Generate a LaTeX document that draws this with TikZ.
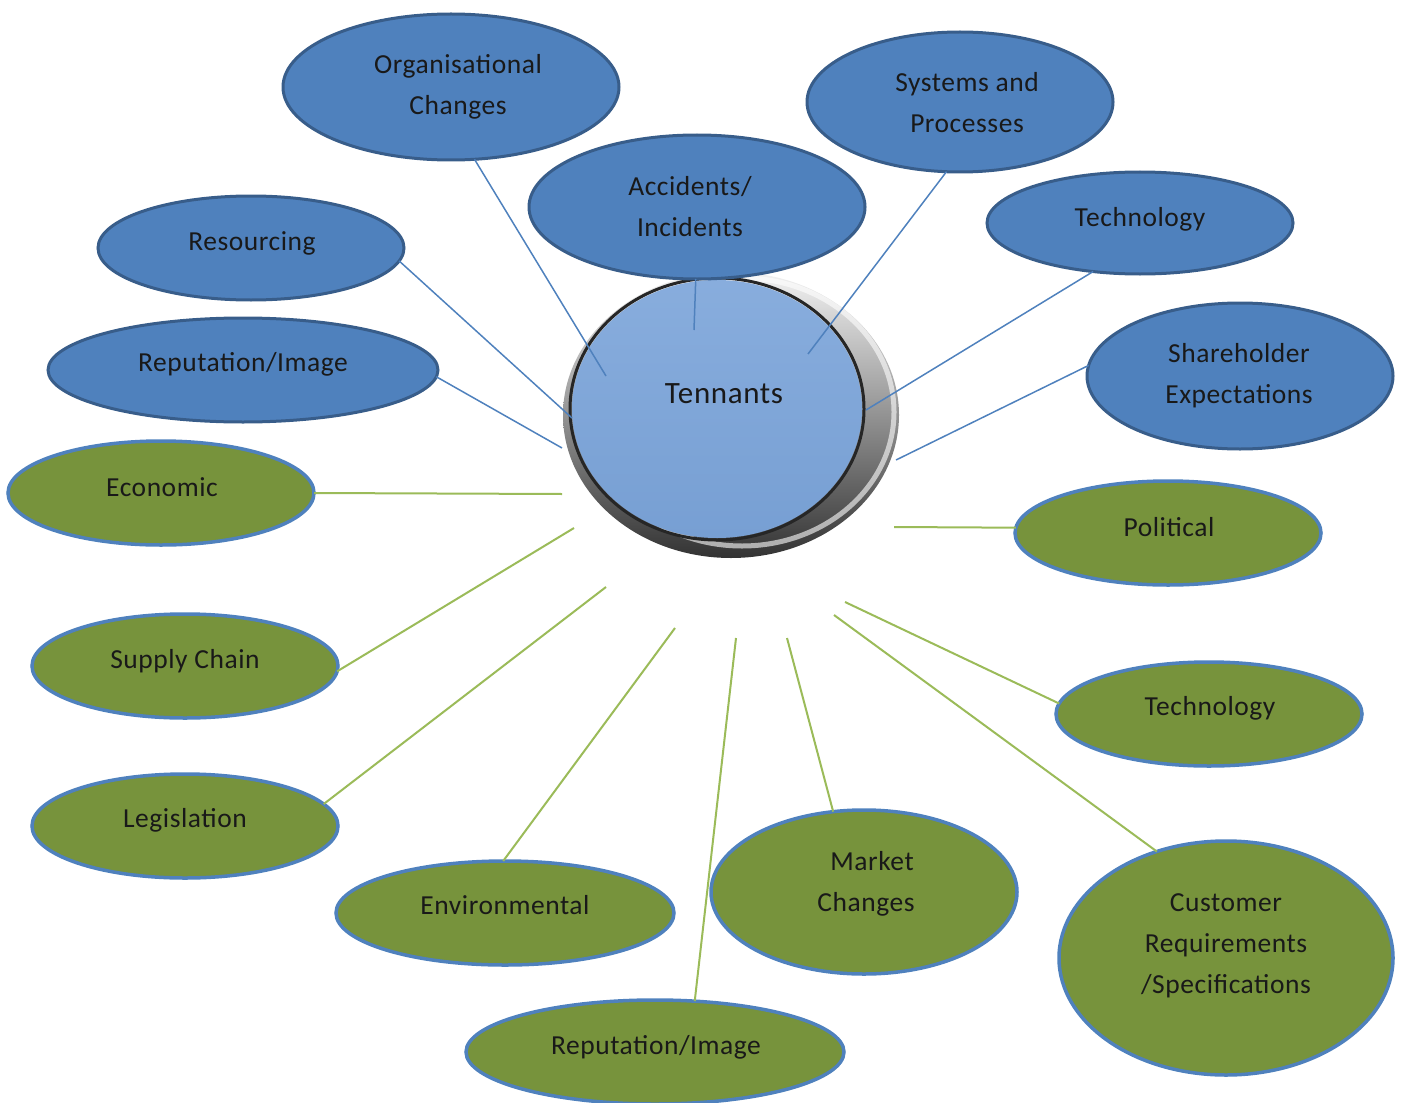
\documentclass[tikz,border=0pt]{standalone}
\usepackage{fontspec}
\setmainfont{Carlito}[LetterSpace=2]
\usetikzlibrary{shapes.geometric}
\definecolor{bfill}{HTML}{4F81BD}
\definecolor{bedge}{HTML}{385D8A}
\definecolor{gfill}{HTML}{77933C}
\definecolor{gedge}{HTML}{4F81BD}
\definecolor{bline}{HTML}{4F81BD}
\definecolor{gline}{HTML}{9BBB59}
\definecolor{diskA}{HTML}{88ADDD}
\definecolor{diskB}{HTML}{779FD3}
\tikzset{
  ell/.style={ellipse, inner sep=0pt, outer sep=0pt},
  bell/.style={ell, fill=bfill, draw=bedge, line width=3pt},
  gell/.style={ell, fill=gfill, draw=gedge, line width=3.5pt},
  txt/.style={inner sep=0pt, align=center, font=\fontsize{27.5}{41}\selectfont, text=black!90},
  bcon/.style={draw=bline, line width=1.5pt},
  gcon/.style={draw=gline, line width=2pt},
}
\newcommand{\ellnode}[6]{% style, name, cx, cy, rx, ry
  \node[#1, minimum width=#5*2pt, minimum height=#6*2pt] (#2) at (#3,#4) {};}
\begin{document}
\begin{tikzpicture}[x=1pt,y=-1pt]
\useasboundingbox (0,0) rectangle (1404,1102);
% central ring
\shade[left color=gray!10, right color=black!80, shading angle=0] (731,415) ellipse [x radius=168pt, y radius=143pt];
\draw[white, opacity=0.6, line width=5pt] (742,412) ellipse [x radius=152pt, y radius=134pt];
\draw[black!85, line width=3pt] (717,409) ellipse [x radius=147pt, y radius=131pt];
\shade[top color=diskA, bottom color=diskB] (717,409) ellipse [x radius=145pt, y radius=129pt];
\node[txt, font=\fontsize{31}{36}\selectfont] (ten) at (724,394) {Tennants};
% ellipses
\ellnode{bell}{org}{451}{87}{168}{73}
\ellnode{bell}{sys}{960}{102}{153}{70}
\ellnode{bell}{acc}{697}{207}{168}{72}
\ellnode{bell}{tecb}{1140}{223}{153}{51}
\ellnode{bell}{res}{251}{248}{153}{52}
\ellnode{bell}{repb}{243}{370}{195}{52}
\ellnode{bell}{sha}{1240}{376}{153}{73}
\ellnode{gell}{eco}{161}{493}{153}{52}
\ellnode{gell}{pol}{1168}{533}{153}{52}
\ellnode{gell}{sup}{185}{666}{153}{52}
\ellnode{gell}{tecg}{1209}{714}{153}{52}
\ellnode{gell}{leg}{185}{826}{153}{52}
\ellnode{gell}{env}{505}{913}{169}{52}
\ellnode{gell}{mar}{864}{892}{153}{82}
\ellnode{gell}{cus}{1226}{958}{167}{117}
\ellnode{gell}{repg}{655}{1052}{189}{52}
% texts
\node[txt] (org-t) at (458,87) {Organisational\\Changes};
\node[txt] (sys-t) at (967,103) {Systems and\\Processes};
\node[txt] (acc-t) at (690,207) {Accidents/\\Incidents};
\node[txt] (tecb-t) at (1140,219) {Technology};
\node[txt] (res-t) at (252,243) {Resourcing};
\node[txt] (repb-t) at (243,364) {Reputation/Image};
\node[txt] (sha-t) at (1239,376) {Shareholder\\Expectations};
\node[txt] (eco-t) at (162,487) {Economic};
\node[txt] (pol-t) at (1169,527) {Political};
\node[txt] (sup-t) at (185,661) {Supply Chain};
\node[txt] (tecg-t) at (1210,708) {Technology};
\node[txt] (leg-t) at (185,820) {Legislation};
\node[txt] (env-t) at (505,905) {Environmental};
\node[txt] (mar-t) at (866,884) {\hspace*{12pt}Market\\Changes};
\node[txt] (cus-t) at (1226,946) {Customer\\Requirements\\/Specifications};
\node[txt] (repg-t) at (656,1047) {Reputation/Image};
% inner ends
\coordinate (c1) at (606,376);
\coordinate (c2) at (694,330);
\coordinate (c3) at (808,354);
\coordinate (c4) at (866,410);
\coordinate (c5) at (896,460);
\coordinate (c6) at (572,418);
\coordinate (c7) at (562,448);
\coordinate (c8) at (562,494);
\coordinate (c9) at (894,527);
\coordinate (c10) at (574,528);
\coordinate (c11) at (606,587);
\coordinate (c12) at (675,628);
\coordinate (c13) at (736,638);
\coordinate (c14) at (787,638);
\coordinate (c15) at (845,602);
\coordinate (c16) at (834,615);
% connectors
\draw[bcon] (org.-72) -- (c1);
\draw[bcon] (acc.-91) -- (c2);
\draw[bcon] (sys.-101) -- (c3);
\draw[bcon] (tecb.-134) -- (c4);
\draw[bcon] (sha.176) -- (c5);
\draw[bcon] (res.-5) -- (c6);
\draw[bcon] (repb.-2) -- (c7);
\draw[gcon] (eco.0) -- (c8);
\draw[gcon] (pol.178) -- (c9);
\draw[gcon] (sup.-2) -- (c10);
\draw[gcon] (leg.9) -- (c11);
\draw[gcon] (env.92) -- (c12);
\draw[gcon] (repg.52) -- (c13);
\draw[gcon] (mar.111) -- (c14);
\draw[gcon] (tecg.176) -- (c15);
\draw[gcon] (cus.123) -- (c16);
\end{tikzpicture}
\end{document}
